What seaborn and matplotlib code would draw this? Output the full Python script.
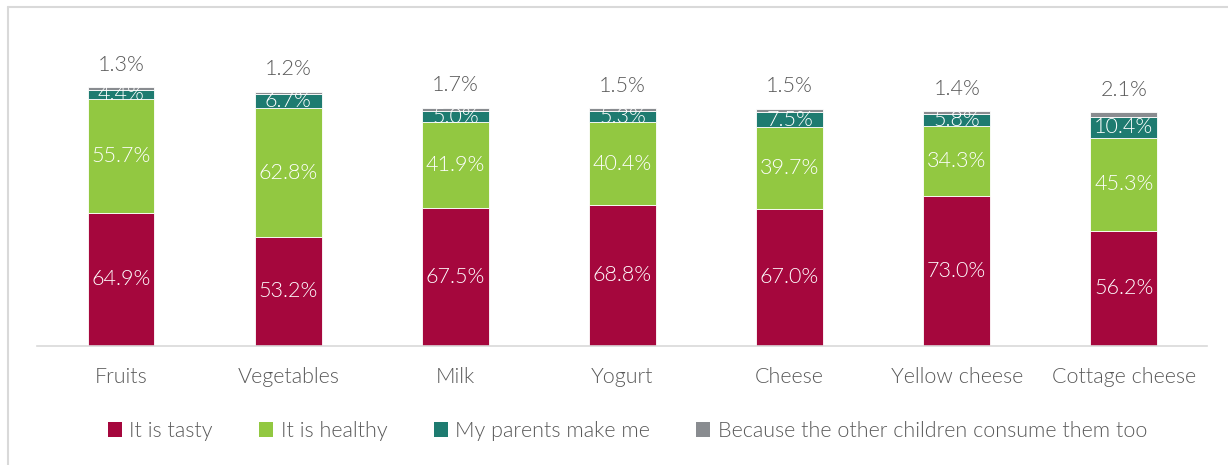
import matplotlib
matplotlib.use("Agg")
import matplotlib.pyplot as plt
from matplotlib.lines import Line2D
from matplotlib.patches import Patch
import numpy as np
import pandas as pd
import seaborn as sns

categories = ["Fruits", "Vegetables", "Milk", "Yogurt", "Cheese", "Yellow cheese", "Cottage cheese"]
tasty = [64.9, 53.2, 67.5, 68.8, 67.0, 73.0, 56.2]
healthy = [55.7, 62.8, 41.9, 40.4, 39.7, 34.3, 45.3]
parents = [4.4, 6.7, 5.0, 5.3, 7.5, 5.8, 10.4]
others = [1.3, 1.2, 1.7, 1.5, 1.5, 1.4, 2.1]

series_names = ["It is tasty", "It is healthy", "My parents make me",
                "Because the other children consume them too"]
series_values = [tasty, healthy, parents, others]
colors = ["#A5073D", "#92C841", "#1E7B70", "#898C90"]
text_gray = "#595959"
fs = 15.5

sns.set_theme(style="white")
plt.rcParams["font.family"] = ["Lato", "DejaVu Sans"]
plt.rcParams["font.weight"] = 300

fig = plt.figure(figsize=(12.28, 4.65), dpi=100)
ax = fig.add_axes([0.0305, 0.2559, 0.9528, 0.6172])

bottom = np.zeros(len(categories))
for name, vals, col in zip(series_names, series_values, colors):
    df = pd.DataFrame({"category": categories, "value": vals})
    sns.barplot(data=df, x="category", y="value", color=col, bottom=bottom,
                width=0.4, ax=ax, edgecolor="white", linewidth=0.6,
                saturation=1, errorbar=None)
    bottom = bottom + np.array(vals)

# value labels
base = np.zeros(len(categories))
for i, vals in enumerate(series_values):
    for j, v in enumerate(vals):
        if i < 3:
            ax.text(j, base[j] + v / 2, f"{v:.1f}%", ha="center", va="center",
                    color="white", fontsize=fs)
        else:
            ax.text(j, base[j] + v + 11, f"{v:.1f}%", ha="center", va="center",
                    color=text_gray, fontsize=fs)
    base = base + np.array(vals)

ax.set_ylim(0, 140)
ax.set_xlim(-0.5, len(categories) - 0.5)
ax.set_xlabel("")
ax.set_ylabel("")
ax.set_yticks([])
for s in ["top", "right", "left"]:
    ax.spines[s].set_visible(False)
ax.spines["bottom"].set_color("#D9D9D9")
ax.spines["bottom"].set_linewidth(1.2)
ax.tick_params(axis="x", length=0, pad=15, labelsize=fs, labelcolor=text_gray)

handles = [Patch(facecolor=c, edgecolor="none") for c in colors]
fig.legend(handles, series_names, loc="center", bbox_to_anchor=(0.511, 0.073),
           ncol=4, frameon=False, fontsize=fs, labelcolor=text_gray,
           handlelength=0.65, handleheight=0.65, handletextpad=0.35,
           columnspacing=2.15)

# chart frame edges
fig.add_artist(Line2D([8 / 1228, 1.0], [1 - 7 / 465, 1 - 7 / 465],
                      transform=fig.transFigure, color="#D9D9D9", lw=1.5))
fig.add_artist(Line2D([8 / 1228, 8 / 1228], [0, 1 - 7 / 465],
                      transform=fig.transFigure, color="#D9D9D9", lw=1.5))

fig.savefig("out.png", dpi=100, facecolor="white")
